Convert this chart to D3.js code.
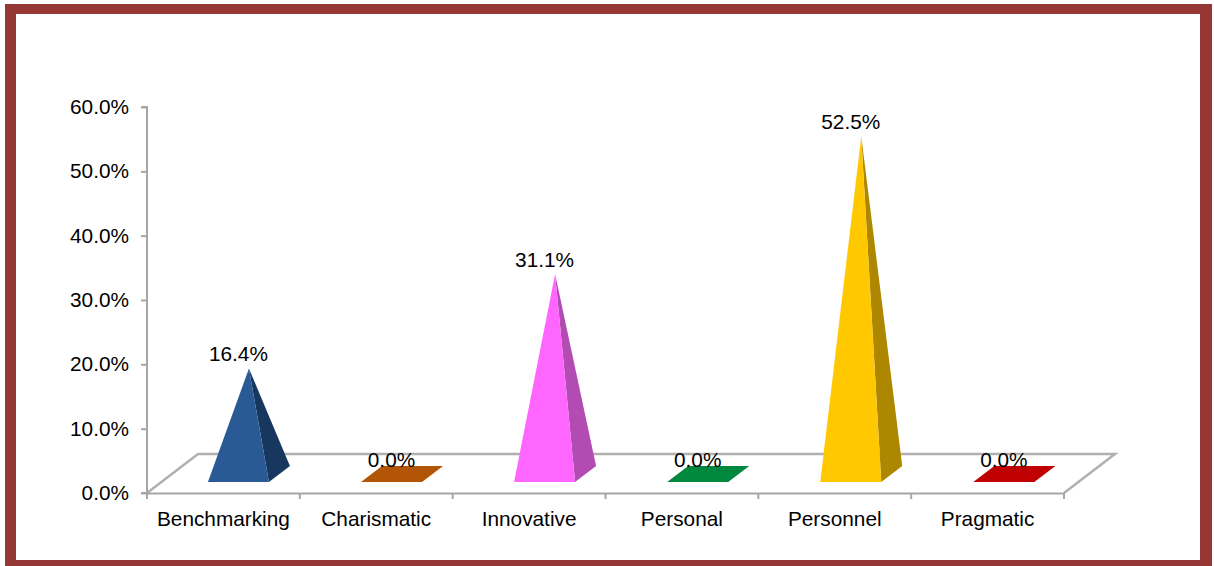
<!DOCTYPE html>
<html><head><meta charset="utf-8">
<script src="https://cdn.jsdelivr.net/npm/d3@7/dist/d3.min.js"></script>
<style>html,body{margin:0;padding:0;background:#fff}svg{display:block}text{font-family:"Liberation Sans",Arial,sans-serif;fill:#000}</style>
</head><body><svg id="c" width="1214" height="566"></svg>
<script>
const categories = ["Benchmarking","Charismatic","Innovative","Personal","Personnel","Pragmatic"];
const values = [16.4,0,31.1,0,52.5,0];
const yTicks = [0,10,20,30,40,50,60];
const frontColors = ["#2a5a96","#b25504","#ff66ff","#00893e","#ffc800","#c00000"];
const sideColors  = ["#17375e","#b25504","#b24bb2","#00893e","#ad8700","#c00000"];

const svg = d3.select("#c");
const fs=20.8;
svg.append("rect").attr("x",5).attr("y",4).attr("width",1207).attr("height",562).attr("fill","#953735");
svg.append("rect").attr("x",16).attr("y",14).attr("width",1184).attr("height",546).attr("fill","#fff");

const x0=147,x1=1064,yB=493,yT=107;
const x=d3.scaleBand().domain(categories).range([x0,x1]);
const markX=d3.scaleBand().domain(categories).range([x0+0.5,x1+2]);
const y=d3.scaleLinear().domain([0,60]).range([yB,yT]);

// floor geometry
const floorDx=51,floorDy=-39;
const baseInset=11/39;              // front of the marks sits this far into the floor depth
const frontDx=floorDx*baseInset, frontDy=floorDy*baseInset;
const depthDx=21, depthDy=-16, halfW=30.5;
const line=d3.line();

svg.append("path").attr("d",line([[x0,yB],[x0+floorDx,yB+floorDy],[x1+floorDx,yB+floorDy],[x1,yB]]))
  .attr("fill","none").attr("stroke","#b0b0b0").attr("stroke-width",2.5);

const marks=svg.append("g").selectAll("g").data(categories).join("g");
marks.each(function(c,i){
  const g=d3.select(this), v=values[i];
  const cx=markX(c)+markX.bandwidth()/2+frontDx, fy=y(0)+frontDy;
  const L=[cx-halfW,fy],R=[cx+halfW,fy],
        BR=[R[0]+depthDx,fy+depthDy],BL=[L[0]+depthDx,fy+depthDy],
        apex=[cx+depthDx/2,y(v)+frontDy+depthDy/2];
  if(v===0){
    g.append("path").attr("d",line([L,R,BR,BL])+"Z").attr("fill",frontColors[i]);
  } else {
    g.append("path").attr("d",line([R,BR,apex])+"Z").attr("fill",sideColors[i]);
    g.append("path").attr("d",line([L,R,apex])+"Z").attr("fill",frontColors[i]);
  }
  g.append("text").attr("x",cx).attr("y",apex[1]-14.5).attr("dy","0.35em")
    .attr("text-anchor","middle").text(v.toFixed(1)+"%");
});

// axes
const ax=svg.append("g").attr("transform",`translate(${x0},0)`)
  .call(d3.axisLeft(y).tickValues(yTicks).tickFormat(d=>d.toFixed(1)+"%").tickSize(6).tickPadding(12));
const bx=svg.append("g").attr("transform",`translate(0,${yB})`)
  .call(d3.axisBottom(x).tickSize(0).tickPadding(18));
bx.selectAll(".tick").remove();
const bottomTicks=d3.range(categories.length+1).map(i=>x0+i*x.bandwidth());
bx.selectAll("line.t").data(bottomTicks).join("line").attr("class","t")
  .attr("x1",d=>d).attr("x2",d=>d).attr("y1",0).attr("y2",6);
bx.selectAll("text.l").data(categories).join("text").attr("class","l")
  .attr("x",d=>x(d)+x.bandwidth()/2).attr("y",26).attr("dy","0.35em")
  .attr("text-anchor","middle").text(d=>d);
svg.selectAll(".domain,.tick line,line.t").attr("stroke","#a6a6a6").attr("stroke-width",2);
ax.select(".domain").attr("d",`M-6,${yT}H0V${yB}H-6`);
svg.selectAll("g text").attr("font-size",fs).attr("font-family",'"Liberation Sans",Arial,sans-serif').attr("fill","#000");
</script></body></html>
